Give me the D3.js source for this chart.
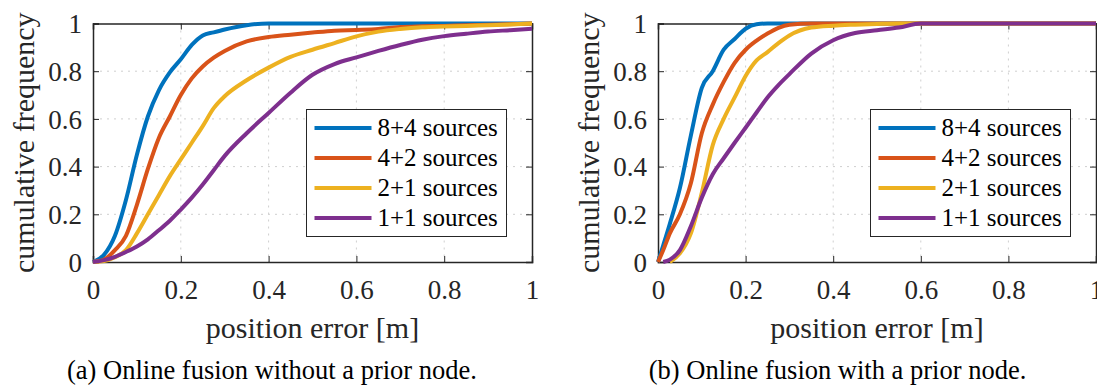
<!DOCTYPE html>
<html>
<head>
<meta charset="utf-8">
<script src="https://cdn.jsdelivr.net/npm/d3@7"></script>
<style>
  html, body { margin: 0; padding: 0; background: #ffffff; }
  svg { display: block; }
  text { font-family: "Liberation Serif", "Times New Roman", serif; }
</style>
</head>
<body>
<svg id="chart" width="1097" height="388"></svg>
<script>
// ---------------- data ----------------
const seriesNames = ["8+4 sources", "4+2 sources", "2+1 sources", "1+1 sources"];
const seriesColors = ["#0072BD", "#D95319", "#EDB120", "#7E2F8E"];
const xTicks = [0, 0.2, 0.4, 0.6, 0.8, 1];
const yTicks = [0, 0.2, 0.4, 0.6, 0.8, 1];
const xTickLabels = ["0", "0.2", "0.4", "0.6", "0.8", "1"];
const yTickLabels = ["0", "0.2", "0.4", "0.6", "0.8", "1"];
const captions = ["(a) Online fusion without a prior node.", "(b) Online fusion with a prior node."];
const xLabel = "position error [m]";
const yLabel = "cumulative frequency";

// panel (a): online fusion without a prior node
const errorA = [0, 0.025, 0.05, 0.075, 0.1, 0.125, 0.15, 0.175, 0.2, 0.225, 0.25, 0.275, 0.3, 0.35, 0.4, 0.45, 0.5, 0.55, 0.6, 0.65, 0.7, 0.75, 0.8, 0.85, 0.9, 0.95, 1.0];
const a_8p4 = [0, 0.03, 0.11, 0.26, 0.45, 0.61, 0.72, 0.795, 0.85, 0.91, 0.95, 0.963, 0.975, 0.993, 1, 1, 1, 1, 1, 1, 1, 1, 1, 1, 1, 1, 1];
const a_4p2 = [0, 0.01, 0.05, 0.11, 0.24, 0.39, 0.52, 0.61, 0.70, 0.77, 0.82, 0.857, 0.885, 0.925, 0.943, 0.953, 0.962, 0.97, 0.973, 0.977, 0.985, 0.988, 0.99, 0.993, 0.995, 0.997, 1.0];
const a_2p1 = [0, 0.004, 0.02, 0.05, 0.12, 0.2, 0.28, 0.36, 0.43, 0.5, 0.57, 0.645, 0.695, 0.762, 0.815, 0.86, 0.89, 0.918, 0.946, 0.966, 0.977, 0.984, 0.987, 0.99, 0.993, 0.996, 1.0];
const a_1p1 = [0, 0.008, 0.022, 0.042, 0.065, 0.095, 0.133, 0.173, 0.22, 0.27, 0.325, 0.385, 0.445, 0.54, 0.625, 0.71, 0.785, 0.83, 0.858, 0.885, 0.91, 0.932, 0.947, 0.957, 0.966, 0.972, 0.978];

// panel (b): online fusion with a prior node (null = no sample yet)
const errorB = [0, 0.012, 0.027, 0.05, 0.075, 0.1, 0.125, 0.15, 0.175, 0.2, 0.225, 0.25, 0.275, 0.3, 0.35, 0.4, 0.45, 0.5, 0.55, 0.6, 0.7, 0.8, 0.9, 1.0];
const b_8p4 = [0, 0.07, 0.16, 0.31, 0.53, 0.73, 0.80, 0.89, 0.935, 0.978, 0.997, 1, 1, 1, 1, 1, 1, 1, 1, 1, 1, 1, 1, 1];
const b_4p2 = [0, 0.05, 0.12, 0.2, 0.33, 0.54, 0.66, 0.755, 0.835, 0.89, 0.928, 0.958, 0.982, 0.995, 1, 1, 1, 1, 1, 1, 1, 1, 1, 1];
const b_2p1 = [null, null, 0, 0.036, 0.12, 0.29, 0.49, 0.6, 0.69, 0.78, 0.845, 0.88, 0.918, 0.95, 0.983, 0.991, 0.995, 0.998, 1, 1, 1, 1, 1, 1];
const b_1p1 = [null, 0, 0.01, 0.05, 0.15, 0.27, 0.368, 0.435, 0.5, 0.563, 0.627, 0.69, 0.742, 0.788, 0.874, 0.93, 0.96, 0.972, 0.983, 1, 1, 1, 1, 1];

const panels = [
  { x: errorA, ys: [a_8p4, a_4p2, a_2p1, a_1p1], left: 93, right: 532, caption: captions[0], capX: 272 },
  { x: errorB, ys: [b_8p4, b_4p2, b_2p1, b_1p1], left: 658, right: 1096, caption: captions[1], capX: 837.5 }
];

// ---------------- drawing ----------------
const svg = d3.select("#chart");
const plotTop = 23.5, plotBottom = 262;
const axisColor = "#262626";

panels.forEach(p => {
  const x = d3.scaleLinear().domain([0, 1]).range([p.left, p.right]);
  const y = d3.scaleLinear().domain([0, 1]).range([plotBottom, plotTop]);
  const g = svg.append("g");

  // grid
  g.append("g").selectAll("line").data(xTicks.slice(1, -1)).join("line")
    .attr("x1", d => x(d)).attr("x2", d => x(d)).attr("y1", plotTop).attr("y2", plotBottom)
    .attr("stroke", "#cfcfcf").attr("stroke-width", 1).attr("stroke-dasharray", "2,5");
  g.append("g").selectAll("line").data(yTicks.slice(1, -1)).join("line")
    .attr("x1", p.left).attr("x2", p.right).attr("y1", d => y(d)).attr("y2", d => y(d))
    .attr("stroke", "#cfcfcf").attr("stroke-width", 1).attr("stroke-dasharray", "2,5");

  // axes (inward ticks, box)
  const tl = 6;
  const axB = d3.axisBottom(x).tickValues(xTicks).tickSize(-tl).tickFormat((d, i) => xTickLabels[i]).tickPadding(0);
  const axL = d3.axisLeft(y).tickValues(yTicks).tickSize(-tl).tickFormat((d, i) => yTickLabels[i]).tickPadding(0);
  const axT = d3.axisTop(x).tickValues(xTicks).tickSize(-tl).tickFormat("");
  const axR = d3.axisRight(y).tickValues(yTicks).tickSize(-tl).tickFormat("");

  const gb = g.append("g").attr("transform", `translate(0,${plotBottom})`).call(axB);
  const gl = g.append("g").attr("transform", `translate(${p.left},0)`).call(axL);
  const gt = g.append("g").attr("transform", `translate(0,${plotTop})`).call(axT);
  const gr = g.append("g").attr("transform", `translate(${p.right},0)`).call(axR);
  [gb, gl, gt, gr].forEach(a => {
    a.select(".domain").attr("stroke", axisColor).attr("stroke-width", 1.5);
    a.selectAll(".tick line").attr("stroke", axisColor).attr("stroke-width", 1);
  });
  gb.selectAll(".tick text").attr("font-size", 27).attr("fill", axisColor)
    .attr("dy", null).attr("y", 37);
  gl.selectAll(".tick text").attr("font-size", 27).attr("fill", axisColor)
    .attr("x", -11).attr("dy", "0.34em");

  // lines
  p.ys.forEach((vals, i) => {
    const pts = p.x.map((xv, k) => [xv, vals[k]]);
    const line = d3.line().defined(d => d[1] !== null)
      .x(d => x(d[0])).y(d => y(d[1])).curve(d3.curveMonotoneX);
    g.append("path").datum(pts).attr("d", line)
      .attr("fill", "none").attr("stroke", seriesColors[i]).attr("stroke-width", 4)
      .attr("stroke-linejoin", "round");
  });

  // axis labels
  g.append("text").attr("x", (p.left + p.right) / 2).attr("y", 338)
    .attr("text-anchor", "middle").attr("font-size", 30).attr("fill", axisColor).text(xLabel);
  g.append("text").attr("transform", `translate(${p.left - 59},${(plotTop + plotBottom) / 2}) rotate(-90)`)
    .attr("text-anchor", "middle").attr("font-size", 30).attr("fill", axisColor).text(yLabel);

  // legend
  const lgX = p.right - 225.5, lgY = 109.5, lgW = 200, lgH = 127;
  const lg = g.append("g");
  lg.append("rect").attr("x", lgX).attr("y", lgY).attr("width", lgW).attr("height", lgH)
    .attr("fill", "#ffffff").attr("stroke", axisColor).attr("stroke-width", 1);
  seriesNames.forEach((name, i) => {
    const cy = lgY + 18.5 + i * 30;
    lg.append("line").attr("x1", lgX + 8).attr("x2", lgX + 65).attr("y1", cy).attr("y2", cy)
      .attr("stroke", seriesColors[i]).attr("stroke-width", 4);
    lg.append("text").attr("x", lgX + 71).attr("y", cy).attr("dy", "0.33em")
      .attr("font-size", 25).attr("fill", "#000").text(name);
  });

  // caption
  svg.append("text").attr("x", p.capX).attr("y", 379).attr("text-anchor", "middle")
    .attr("font-size", 26.5).attr("fill", "#000").text(p.caption);
});
</script>
</body>
</html>
